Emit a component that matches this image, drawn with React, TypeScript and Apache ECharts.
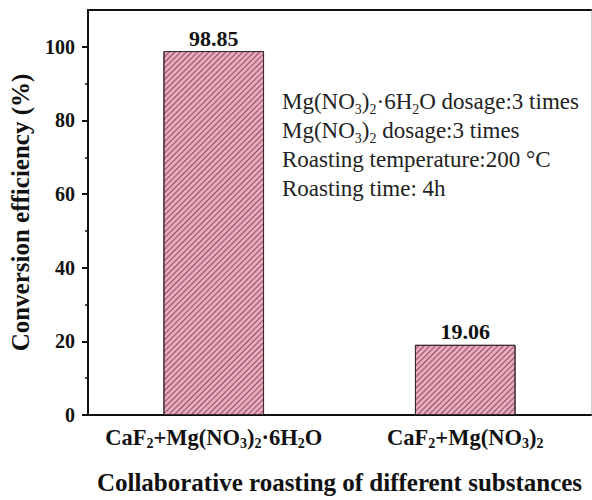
import React, { useEffect, useRef } from "react";
import * as echarts from "echarts";

const categories = ["CaF{s|2}+Mg(NO{s|3}){s|2}·6H{s|2}O", "CaF{s|2}+Mg(NO{s|3}){s|2}"];
const efficiency = [98.85, 19.06];
const yTicks = [0, 20, 40, 60, 80, 100];
const noteLines = [
  "Mg(NO{s|3}){s|2}·6H{s|2}O dosage:3 times",
  "Mg(NO{s|3}){s|2} dosage:3 times",
  "Roasting temperature:200 °C",
  "Roasting time: 4h",
];

const FONT = "'Liberation Serif', 'Times New Roman', serif";

export default function App() {
  const ref = useRef<HTMLDivElement>(null);
  useEffect(() => {
    if (!ref.current) return;
    const chart = echarts.init(ref.current, null, { renderer: "svg" });
    const subLabel = { fontSize: 14, lineHeight: 15, verticalAlign: "bottom", fontWeight: "bold", fontFamily: FONT, color: "#111" };
    chart.setOption({
      animation: false,
      backgroundColor: "#fff",
      grid: { left: 88, right: 1, top: 10, bottom: 83 },
      xAxis: [
        {
          type: "category",
          data: categories,
          position: "bottom",
          axisLine: { lineStyle: { color: "#111", width: 2 } },
          axisTick: { alignWithLabel: true, length: 6, lineStyle: { color: "#111", width: 2 } },
          axisLabel: {
            interval: 0,
            hideOverlap: false,
            margin: 9,
            fontSize: 22.5,
            fontWeight: "bold",
            fontFamily: FONT,
            color: "#111",
            lineHeight: 26,
            rich: { s: subLabel },
          },
          name: "Collaborative roasting of different substances",
          nameLocation: "middle",
          nameGap: 55,
          nameTextStyle: { fontSize: 25, fontWeight: "bold", fontFamily: FONT, color: "#111" },
        },
        {
          type: "category",
          data: categories,
          position: "bottom",
          axisLine: { show: false },
          axisTick: { length: 3, lineStyle: { color: "#111", width: 2 } },
          axisLabel: { show: false },
        },
        {
          type: "category",
          data: categories,
          position: "top",
          axisLine: { lineStyle: { color: "#111", width: 2 } },
          axisTick: { show: false },
          axisLabel: { show: false },
        },
      ],
      yAxis: [
        {
          type: "value",
          min: 0,
          max: 110,
          interval: 20,
          axisLine: { show: true, lineStyle: { color: "#111", width: 2 } },
          axisTick: { show: true, length: 6, customValues: yTicks, lineStyle: { color: "#111", width: 2 } },
          minorTick: { show: true, splitNumber: 2, length: 3, lineStyle: { color: "#111", width: 1.5 } },
          splitLine: { show: false },
          axisLabel: {
            customValues: yTicks,
            margin: 13,
            fontSize: 20,
            fontWeight: "bold",
            fontFamily: FONT,
            color: "#111",
          },
          name: "Conversion efficiency (%)",
          nameLocation: "middle",
          nameGap: 55,
          nameTextStyle: { fontSize: 25, fontWeight: "bold", fontFamily: FONT, color: "#111" },
        },
        {
          type: "value",
          position: "right",
          min: 0,
          max: 110,
          axisLine: { show: true, lineStyle: { color: "#cfcfcf", width: 1 } },
          axisTick: { show: false },
          axisLabel: { show: false },
          splitLine: { show: false },
        },
      ],
      series: [
        {
          type: "bar",
          data: efficiency,
          xAxisIndex: 0,
          yAxisIndex: 0,
          barWidth: "40%",
          itemStyle: {
            color: "#E9AABB",
            borderColor: "#3a2a30",
            borderWidth: 1,
            decal: {
              symbol: "rect",
              symbolSize: 1,
              dashArrayX: [1, 0],
              dashArrayY: [1, 2.6],
              rotation: -Math.PI / 4,
              color: "rgba(110,45,70,0.75)",
            },
          },
          label: {
            show: true,
            position: "top",
            distance: 2,
            fontSize: 22,
            fontWeight: "bold",
            fontFamily: FONT,
            color: "#111",
          },
        },
      ],
      graphic: [
        {
          type: "text",
          left: 282,
          top: 87,
          style: {
            text: noteLines.join("\n"),
            fontSize: 23,
            fontFamily: FONT,
            lineHeight: 29,
            fill: "#222",
            rich: {
              s: { fontSize: 14, lineHeight: 16, verticalAlign: "bottom", fontFamily: FONT, fill: "#222" },
            },
          },
        },
      ],
    });
    return () => chart.dispose();
  }, []);
  return <div ref={ref} style={{ width: 592, height: 500, position: "absolute", left: 0, top: 0 }} />;
}
